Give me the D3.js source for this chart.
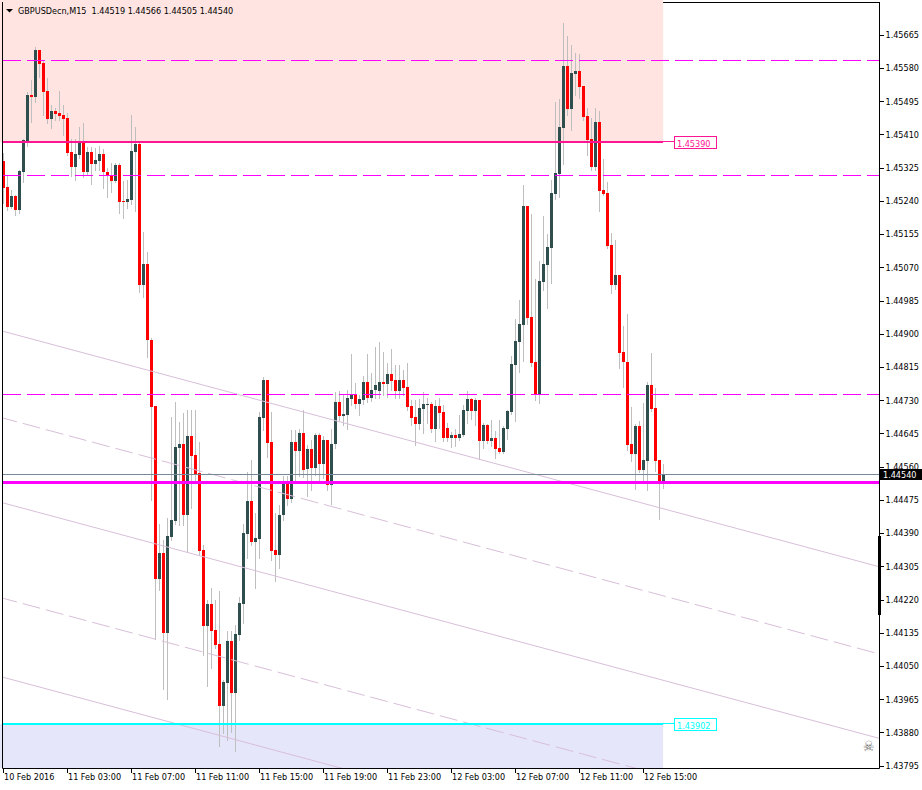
<!DOCTYPE html>
<html>
<head>
<meta charset="utf-8">
<script src="https://cdn.jsdelivr.net/npm/d3@7"></script>
<style>
  html, body { margin: 0; padding: 0; background: #fff; }
  svg { display: block; font-family: "DejaVu Sans Condensed", "DejaVu Sans", sans-serif; font-size: 9px; }
  .title { white-space: pre; }
</style>
</head>
<body>
<div id="chart-container"></div>
<script>
const chartTitle = "GBPUSDecn,M15  1.44519 1.44566 1.44505 1.44540";

// M15 candles, 10 Feb 23:00 .. 12 Feb 16:15
const opens = [
  1.45342,1.45276,1.45224,1.45253,1.45217,1.45314,1.45393,1.45511,1.45506,1.45626,
  1.45593,1.45521,1.45450,1.45470,1.45465,1.45460,1.45452,1.45365,1.45327,1.45358,
  1.45388,1.45314,1.45365,1.45334,1.45342,1.45360,1.45314,1.45306,1.45291,1.45332,
  1.45240,1.45237,1.45242,1.45365,1.45386,1.45025,1.45079,1.44884,1.44716,1.44273,
  1.44339,1.44135,1.44380,1.44421,1.44608,1.44618,1.44437,1.44639,1.44590,1.44544,
  1.44347,1.44153,1.44209,1.44142,1.44107,1.43948,1.44007,1.44114,1.43981,1.44130,
  1.44209,1.44388,1.44472,1.44368,1.44375,1.44685,1.44782,1.44623,1.44347,1.44334,
  1.44437,1.44516,1.44478,1.44623,1.44600,1.44646,1.44554,1.44606,1.44557,1.44641,
  1.44567,1.44629,1.44513,1.44618,1.44726,1.44690,1.44692,1.44733,1.44744,1.44721,
  1.44731,1.44777,1.44736,1.44756,1.44754,1.44777,1.44772,1.44797,1.44782,1.44754,
  1.44782,1.44764,1.44716,1.44687,1.44669,1.44708,1.44718,1.44721,1.44657,1.44716,
  1.44700,1.44659,1.44634,1.44641,1.44634,1.44641,1.44703,1.44733,1.44703,1.44731,
  1.44626,1.44667,1.44626,1.44634,1.44608,1.44598,1.44657,1.44700,1.44820,1.44879,
  1.44923,1.45227,1.44943,1.44828,1.44744,1.45033,1.45076,1.45120,1.45258,1.45309,
  1.45427,1.45585,1.45475,1.45565,1.45572,1.45534,1.45457,1.45398,1.45327,1.45442,
  1.45268,1.45260,1.45127,1.45025,1.45050,1.44854,1.44828,1.44618,1.44593,1.44664,
  1.44552,1.44575,1.44769,1.44710,1.44577,1.44519
];
const highs = [
  1.45363,1.45306,1.45268,1.45255,1.45319,1.45398,1.45519,1.45549,1.45634,1.45626,
  1.45598,1.45554,1.45485,1.45478,1.45521,1.45485,1.45465,1.45398,1.45398,1.45429,
  1.45439,1.45378,1.45378,1.45375,1.45380,1.45373,1.45324,1.45337,1.45337,1.45337,
  1.45291,1.45294,1.45460,1.45429,1.45388,1.45161,1.45109,1.44889,1.44716,1.44414,
  1.44373,1.44429,1.44687,1.44726,1.44674,1.44698,1.44705,1.44705,1.44705,1.44623,
  1.44360,1.44219,1.44250,1.44219,1.44242,1.44015,1.44140,1.44140,1.44155,1.44227,
  1.44414,1.44547,1.44577,1.44442,1.44700,1.44790,1.44782,1.44700,1.44442,1.44462,
  1.44536,1.44536,1.44654,1.44654,1.44657,1.44705,1.44616,1.44629,1.44646,1.44646,
  1.44639,1.44629,1.44657,1.44751,1.44754,1.44744,1.44756,1.44849,1.44774,1.44744,
  1.44792,1.44849,1.44800,1.44866,1.44879,1.44854,1.44825,1.44861,1.44820,1.44820,
  1.44808,1.44825,1.44731,1.44731,1.44733,1.44751,1.44736,1.44726,1.44731,1.44736,
  1.44718,1.44672,1.44649,1.44657,1.44692,1.44718,1.44754,1.44736,1.44736,1.44731,
  1.44672,1.44669,1.44680,1.44651,1.44680,1.44664,1.44705,1.44843,1.44938,1.44987,
  1.45281,1.45227,1.45207,1.45040,1.45086,1.45201,1.45155,1.45294,1.45493,1.45501,
  1.45695,1.45662,1.45639,1.45618,1.45616,1.45534,1.45478,1.45452,1.45478,1.45470,
  1.45347,1.45288,1.45158,1.45140,1.45050,1.44920,1.44951,1.44713,1.44669,1.44677,
  1.44723,1.44777,1.44851,1.44762,1.44577,1.44566
];
const lows = [
  1.45235,1.45217,1.45222,1.45204,1.45209,1.45288,1.45380,1.45442,1.45493,1.45557,
  1.45460,1.45439,1.45427,1.45447,1.45447,1.45409,1.45358,1.45304,1.45294,1.45350,
  1.45301,1.45306,1.45283,1.45319,1.45319,1.45273,1.45250,1.45263,1.45288,1.45209,
  1.45196,1.45222,1.45232,1.45214,1.45007,1.44994,1.44841,1.44475,1.44119,1.44245,
  1.43992,1.43966,1.44373,1.44414,1.44411,1.44411,1.44342,1.44455,1.44526,1.44334,
  1.44079,1.43999,1.44045,1.44096,1.43846,1.43879,1.43861,1.43881,1.43833,1.44117,
  1.44160,1.44327,1.44360,1.44250,1.44327,1.44654,1.44585,1.44321,1.44268,1.44301,
  1.44424,1.44462,1.44470,1.44526,1.44536,1.44534,1.44485,1.44501,1.44539,1.44526,
  1.44531,1.44501,1.44465,1.44608,1.44680,1.44667,1.44657,1.44718,1.44710,1.44692,
  1.44721,1.44726,1.44728,1.44736,1.44736,1.44744,1.44739,1.44756,1.44736,1.44736,
  1.44744,1.44705,1.44667,1.44616,1.44657,1.44646,1.44672,1.44649,1.44626,1.44659,
  1.44626,1.44626,1.44611,1.44613,1.44629,1.44639,1.44672,1.44682,1.44667,1.44580,
  1.44608,1.44621,1.44613,1.44582,1.44595,1.44595,1.44631,1.44695,1.44677,1.44802,
  1.44831,1.44925,1.44818,1.44731,1.44723,1.45012,1.44966,1.45030,1.45245,1.45250,
  1.45334,1.45460,1.45422,1.45511,1.45503,1.45447,1.45358,1.45319,1.45319,1.45214,
  1.45255,1.45120,1.45004,1.45015,1.44813,1.44764,1.44603,1.44575,1.44503,1.44547,
  1.44526,1.44501,1.44703,1.44549,1.44426,1.44505
];
const closes = [
  1.45273,1.45224,1.45253,1.45217,1.45317,1.45396,1.45511,1.45506,1.45626,1.45590,
  1.45519,1.45450,1.45470,1.45462,1.45457,1.45450,1.45363,1.45327,1.45360,1.45388,
  1.45314,1.45365,1.45334,1.45345,1.45360,1.45314,1.45304,1.45291,1.45332,1.45237,
  1.45237,1.45245,1.45368,1.45386,1.45025,1.45079,1.44884,1.44713,1.44273,1.44339,
  1.44135,1.44383,1.44424,1.44611,1.44618,1.44437,1.44639,1.44588,1.44542,1.44345,
  1.44153,1.44209,1.44140,1.44104,1.43948,1.44009,1.44114,1.43981,1.44132,1.44211,
  1.44391,1.44472,1.44368,1.44378,1.44687,1.44782,1.44621,1.44345,1.44334,1.44437,
  1.44516,1.44478,1.44623,1.44600,1.44646,1.44552,1.44606,1.44557,1.44641,1.44567,
  1.44629,1.44513,1.44618,1.44726,1.44690,1.44695,1.44736,1.44744,1.44721,1.44733,
  1.44777,1.44736,1.44756,1.44769,1.44777,1.44772,1.44797,1.44779,1.44754,1.44782,
  1.44762,1.44713,1.44685,1.44669,1.44710,1.44721,1.44721,1.44657,1.44716,1.44698,
  1.44634,1.44634,1.44641,1.44634,1.44644,1.44705,1.44733,1.44703,1.44731,1.44626,
  1.44667,1.44626,1.44634,1.44606,1.44598,1.44659,1.44703,1.44823,1.44882,1.44925,
  1.45227,1.44941,1.44825,1.44744,1.45035,1.45079,1.45122,1.45260,1.45311,1.45429,
  1.45585,1.45475,1.45567,1.45572,1.45531,1.45455,1.45396,1.45327,1.45442,1.45265,
  1.45258,1.45125,1.45025,1.45050,1.44851,1.44828,1.44616,1.44593,1.44664,1.44552,
  1.44577,1.44769,1.44708,1.44575,1.44521,1.44540
];

const timeLabels = ["10 Feb 2016", "11 Feb 03:00", "11 Feb 07:00", "11 Feb 11:00", "11 Feb 15:00",
  "11 Feb 19:00", "11 Feb 23:00", "12 Feb 03:00", "12 Feb 07:00", "12 Feb 11:00", "12 Feb 15:00"];
const barsPerLabel = 16;

const priceTicks = [1.45665, 1.45580, 1.45495, 1.45410, 1.45325, 1.45240, 1.45155, 1.45070,
  1.44985, 1.44900, 1.44815, 1.44730, 1.44645, 1.44560, 1.44475, 1.44390, 1.44305, 1.44220,
  1.44135, 1.44050, 1.43965, 1.43880, 1.43795];

// chart objects
const dashedLevels = [1.45600, 1.45305, 1.44745];
const supportLine = 1.44520;
const bidPrice = 1.44540;
const upperZone = [1.45800, 1.45390];
const lowerZone = [1.43902, 1.43700];
const zoneEndBar = 164.9;
const zoneLabels = ["1.45390", "1.43902"];
// sloping lines: price at bar 0 and at bar 200
const slopeStart = [1.44906, 1.44684, 1.44467, 1.44223, 1.44021];
const slopeEnd = [1.44356, 1.44133, 1.43917, 1.43673, 1.43471];
const slopeDashed = [false, true, false, true, false];

let W = 922, H = 790,
    frame = { left: 2, right: 879, top: 2, bottom: 768 },
    svg = d3.select("#chart-container").append("svg").attr("width", W).attr("height", H);

let x = d3.scaleLinear().domain([0, 165]).range([3.5, 663.5]),
    y = d3.scaleLinear().domain([1.43795, 1.45665]).range([765.7, 34.7]);

let px = v => Math.floor(y(v)) + 0.5;

let defs = svg.append("defs");
defs.append("clipPath").attr("id", "clip-zone").append("rect")
    .attr("x", 0).attr("y", 0).attr("width", frame.right).attr("height", frame.bottom);
defs.append("clipPath").attr("id", "clip-plot").append("rect")
    .attr("x", frame.left + 1).attr("y", frame.top + 1)
    .attr("width", frame.right - frame.left - 1).attr("height", frame.bottom - frame.top - 1);

// top border sits under the zone rectangles
svg.append("line")
    .attr("x1", frame.left).attr("x2", frame.right + 1)
    .attr("y1", frame.top + 0.5).attr("y2", frame.top + 0.5)
    .attr("stroke", "#000");

let zones = svg.append("g").attr("clip-path", "url(#clip-zone)");
zones.append("rect")
    .attr("x", 0).attr("y", y(upperZone[0]))
    .attr("width", x(zoneEndBar)).attr("height", y(upperZone[1]) - y(upperZone[0]))
    .attr("fill", "#FFE4E1");
zones.append("rect")
    .attr("x", 0).attr("y", Math.round(y(lowerZone[0])))
    .attr("width", x(zoneEndBar)).attr("height", y(lowerZone[1]) - Math.round(y(lowerZone[0])))
    .attr("fill", "#E6E6FA");

let plot = svg.append("g").attr("clip-path", "url(#clip-plot)");

// candles
let bars = d3.range(opens.length).map(i => ({ i, o: opens[i], h: highs[i], l: lows[i], c: closes[i] }));

plot.append("g").selectAll("line").data(bars).join("line")
    .attr("x1", d => x(d.i)).attr("x2", d => x(d.i))
    .attr("y1", d => Math.round(y(d.h))).attr("y2", d => Math.round(y(d.l)) + 1)
    .attr("stroke", "#BEBEBE")
    .attr("shape-rendering", "crispEdges");

plot.append("g").selectAll("rect").data(bars).join("rect")
    .attr("x", d => x(d.i) - 1.5)
    .attr("width", 3)
    .attr("y", d => Math.round(y(Math.max(d.o, d.c))))
    .attr("height", d => Math.max(1, Math.round(y(Math.min(d.o, d.c))) - Math.round(y(Math.max(d.o, d.c)))))
    .attr("fill", d => d.c >= d.o ? "#2F4F4F" : "#FF0000")
    .attr("shape-rendering", "crispEdges");

// sloping lines
let slopeAt = (k, bar) => slopeStart[k] + (slopeEnd[k] - slopeStart[k]) * bar / 200;
plot.append("g").selectAll("line").data(slopeStart.map((s, k) => k)).join("line")
    .attr("x1", x(-1)).attr("y1", k => y(slopeAt(k, -1)))
    .attr("x2", x(220)).attr("y2", k => y(slopeAt(k, 220)))
    .attr("stroke", "#D8BFD8")
    .attr("stroke-width", 1)
    .attr("stroke-dasharray", k => slopeDashed[k] ? "18,6" : null);

// horizontal levels
plot.append("g").selectAll("line").data(dashedLevels).join("line")
    .attr("x1", frame.left + 1).attr("x2", frame.right)
    .attr("y1", px).attr("y2", px)
    .attr("stroke", "#FF00FF")
    .attr("stroke-dasharray", "18,6");

plot.append("line")
    .attr("x1", frame.left).attr("x2", frame.right)
    .attr("y1", px(bidPrice)).attr("y2", px(bidPrice))
    .attr("stroke", "#778899");

plot.append("line")
    .attr("x1", frame.left).attr("x2", frame.right)
    .attr("y1", px(supportLine)).attr("y2", px(supportLine))
    .attr("stroke", "#FF00FF").attr("stroke-width", 3);

// zone edges with their price labels
let zoneEdges = [
  { v: upperZone[1], color: "#FF1493", text: zoneLabels[0] },
  { v: lowerZone[0], color: "#00FFFF", text: zoneLabels[1] }
];
zoneEdges.forEach(z => {
  let yy = Math.round(y(z.v));
  plot.append("line")
      .attr("x1", frame.left).attr("x2", x(zoneEndBar))
      .attr("y1", yy).attr("y2", yy)
      .attr("stroke", z.color).attr("stroke-width", 2);
  plot.append("line")
      .attr("x1", x(zoneEndBar)).attr("x2", 674)
      .attr("y1", yy - 0.5).attr("y2", yy - 0.5)
      .attr("stroke", z.color);
  let g = svg.append("g").attr("transform", `translate(674,${yy})`);
  g.append("rect")
      .attr("x", 0.5).attr("y", -5.5).attr("width", 42).attr("height", 12)
      .attr("fill", "#fff").attr("stroke", z.color);
  g.append("text")
      .attr("x", 3).attr("y", 4.5)
      .attr("fill", z.color)
      .text(z.text);
});

// frame
svg.append("path")
    .attr("d", `M${frame.left + 0.5},${frame.top}V${frame.bottom + 0.5}H${frame.right + 0.5}V${frame.top}`)
    .attr("fill", "none").attr("stroke", "#000");

// time axis
svg.append("g")
    .attr("transform", `translate(0,${frame.bottom})`)
    .call(d3.axisBottom(x)
        .offset(0)
        .tickValues(timeLabels.map((t, k) => k * barsPerLabel))
        .tickFormat((d, k) => timeLabels[k])
        .tickSize(5).tickSizeOuter(0).tickPadding(1))
    .call(g => g.select(".domain").remove())
    .call(g => g.selectAll("text").attr("text-anchor", "start").attr("x", 0.5).attr("fill", "#000"))
    .call(g => g.selectAll(".tick line").attr("stroke", "#000").attr("shape-rendering", "crispEdges"))
    .attr("font-family", null).attr("font-size", null);

// price axis
svg.append("g")
    .attr("transform", `translate(${frame.right + 0.5},0)`)
    .call(d3.axisRight(y)
        .tickValues(priceTicks)
        .tickFormat(d3.format(".5f"))
        .tickSize(4).tickSizeOuter(0).tickPadding(2))
    .call(g => g.select(".domain").remove())
    .call(g => g.selectAll("text").attr("fill", "#000"))
    .call(g => g.selectAll(".tick line").attr("stroke", "#000").attr("shape-rendering", "crispEdges"))
    .attr("font-family", null).attr("font-size", null);

// scroll mark on price scale
svg.append("rect")
    .attr("x", frame.right - 1).attr("y", 536).attr("width", 3).attr("height", 79)
    .attr("fill", "#000");

// current price tag
let tag = svg.append("g").attr("transform", `translate(${frame.right + 1},${px(bidPrice)})`);
tag.append("rect").attr("x", 0).attr("y", -5.5).attr("width", 42).attr("height", 11).attr("fill", "#000");
tag.append("text").attr("x", 3).attr("y", 3.5).attr("fill", "#fff").text(d3.format(".5f")(bidPrice));

// title
svg.append("path").attr("d", "M6,9H13L9.5,12.5Z").attr("fill", "#000");
svg.append("text").attr("class", "title").attr("x", 18).attr("y", 13.5).attr("fill", "#000").text(chartTitle);

// expert icon
svg.append("text").attr("x", 863).attr("y", 751).attr("font-size", 14).attr("fill", "#666").text("\u2620");
</script>
</body>
</html>
